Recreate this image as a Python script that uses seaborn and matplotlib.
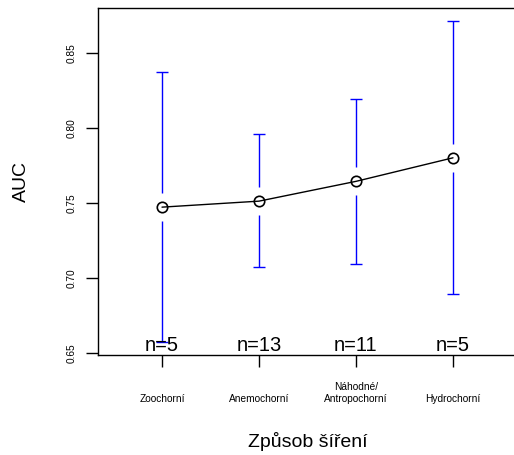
import numpy as np
import pandas as pd
import matplotlib
matplotlib.use("Agg")
import matplotlib.pyplot as plt
import seaborn as sns

# --------------------------------------------------------------
# Data
# --------------------------------------------------------------
categories = ["Zoochorní", "Anemochorní", "Náhodné/\nAntropochorní", "Hydrochorní"]
auc_mean = [0.7473, 0.7513, 0.7645, 0.7802]
ci_lower = [0.6571, 0.7071, 0.7093, 0.6893]
ci_upper = [0.8373, 0.7958, 0.8195, 0.8711]
n_counts = [5, 13, 11, 5]

df = pd.DataFrame(
    {"pos": np.arange(1, len(categories) + 1), "AUC": auc_mean, "lo": ci_lower, "hi": ci_upper}
)

# --------------------------------------------------------------
# Plot
# --------------------------------------------------------------
sns.set_style("ticks")
plt.rcParams["font.family"] = ["Liberation Sans", "DejaVu Sans"]
plt.rcParams["text.color"] = "black"
plt.rcParams["axes.labelcolor"] = "black"

fig = plt.figure(figsize=(5.14, 4.55), dpi=100)
ax = fig.add_axes([98 / 514, 1 - 355 / 455, (517 - 98) / 514, (355 - 8) / 455])

gap = 0.0093  # gap around the mean marker
cap = 0.065
ax.vlines(df["pos"], df["AUC"] + gap, df["hi"], color="blue", lw=1)
ax.vlines(df["pos"], df["lo"], df["AUC"] - gap, color="blue", lw=1)
ax.hlines(df["hi"], df["pos"] - cap, df["pos"] + cap, color="blue", lw=1)
ax.hlines(df["lo"], df["pos"] - cap, df["pos"] + cap, color="blue", lw=1)

sns.lineplot(
    data=df,
    x="pos",
    y="AUC",
    ax=ax,
    color="black",
    lw=1,
    marker="o",
    markersize=7.5,
    markerfacecolor="none",
    markeredgecolor="black",
    markeredgewidth=1.2,
)

for p, n in zip(df["pos"], n_counts):
    ax.text(p, 0.6512, f"n={n}", ha="center", va="baseline", fontsize=14.5, color="black")

ax.set_xlim(0.34, 4.66)
ax.set_ylim(0.6487, 0.8801)
ax.set_yticks([0.65, 0.70, 0.75, 0.80, 0.85])
ax.set_yticklabels(["0.65", "0.70", "0.75", "0.80", "0.85"], rotation=90, va="center", fontsize=7.3)
ax.set_xticks(df["pos"])
ax.set_xticklabels(categories, fontsize=7.3, va="bottom", linespacing=1.3)
ax.tick_params(axis="x", length=8.6, width=1, pad=27, colors="black")
ax.tick_params(axis="y", length=8.6, width=1, pad=7, colors="black")
for s in ax.spines.values():
    s.set_linewidth(1)
    s.set_color("black")

ax.set_xlabel("Způsob šíření", fontsize=14, labelpad=19.5)
ax.set_ylabel("AUC", fontsize=14, labelpad=26)

fig.savefig("out.png", dpi=100)
